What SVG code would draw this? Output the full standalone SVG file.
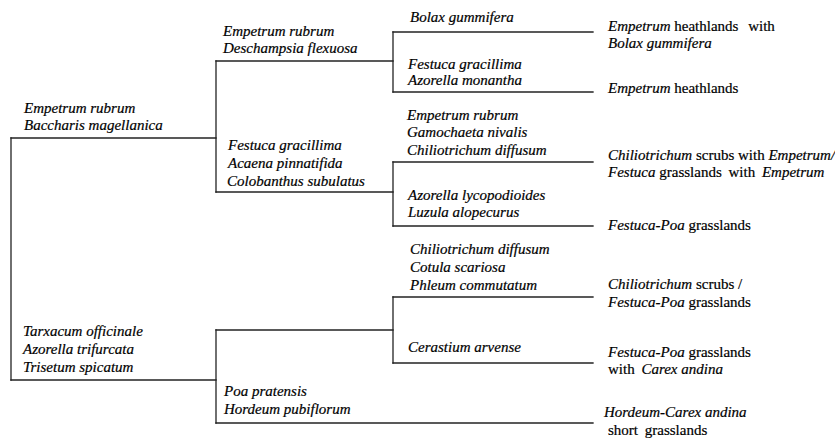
<svg xmlns="http://www.w3.org/2000/svg" width="835" height="439" viewBox="0 0 835 439">
<style>
  text { font-family: "Liberation Serif", "Times New Roman", serif; font-size: 15px; fill: #000; stroke: #000; stroke-width: 0.2; }
  .i { font-style: italic; }
  .c line { stroke: #222; stroke-width: 1.3; stroke-linecap: square; fill: none; }
</style>
<rect width="835" height="439" fill="#fff"/>
<g id="connectors" class="c">
  <line x1="11" y1="138" x2="216" y2="138"/>
  <line x1="11" y1="138" x2="11" y2="380"/>
  <line x1="11" y1="380" x2="216" y2="380"/>
  <line x1="216" y1="61" x2="216" y2="192"/>
  <line x1="216" y1="61" x2="393" y2="61"/>
  <line x1="216" y1="192" x2="393" y2="192"/>
  <line x1="393" y1="32" x2="393" y2="92"/>
  <line x1="393" y1="32" x2="593" y2="32"/>
  <line x1="393" y1="92" x2="593" y2="92"/>
  <line x1="393" y1="162" x2="393" y2="226"/>
  <line x1="393" y1="162" x2="593" y2="162"/>
  <line x1="393" y1="226" x2="593" y2="226"/>
  <line x1="216" y1="330" x2="216" y2="423"/>
  <line x1="216" y1="330" x2="393" y2="330"/>
  <line x1="216" y1="423" x2="593" y2="423"/>
  <line x1="393" y1="297" x2="393" y2="363"/>
  <line x1="393" y1="297" x2="593" y2="297"/>
  <line x1="393" y1="363" x2="593" y2="363"/>
</g>
<g id="node-root-a">
  <text class="i" x="24" y="113">Empetrum rubrum</text>
  <text class="i" x="24" y="130">Baccharis  magellanica</text>
</g>
<g id="node-root-b">
  <text class="i" x="23" y="336">Tarxacum officinale</text>
  <text class="i" x="23" y="354">Azorella  trifurcata</text>
  <text class="i" x="23" y="372">Trisetum spicatum</text>
</g>
<g id="node-l1-a">
  <text class="i" x="223" y="36">Empetrum rubrum</text>
  <text class="i" x="223" y="53">Deschampsia  flexuosa</text>
</g>
<g id="node-l1-b">
  <text class="i" x="228" y="150">Festuca gracillima</text>
  <text class="i" x="228" y="168">Acaena pinnatifida</text>
  <text class="i" x="227" y="186">Colobanthus subulatus</text>
</g>
<g id="node-l1-c">
  <text class="i" x="224" y="396">Poa pratensis</text>
  <text class="i" x="224" y="414">Hordeum pubiflorum</text>
</g>
<g id="node-l2-a">
  <text class="i" x="410" y="22">Bolax gummifera</text>
</g>
<g id="node-l2-b">
  <text class="i" x="408" y="69">Festuca gracillima</text>
  <text class="i" x="408" y="85">Azorella  monantha</text>
</g>
<g id="node-l2-c">
  <text class="i" x="407" y="120">Empetrum rubrum</text>
  <text class="i" x="407" y="137">Gamochaeta nivalis</text>
  <text class="i" x="407" y="155">Chiliotrichum  diffusum</text>
</g>
<g id="node-l2-d">
  <text class="i" x="408" y="200">Azorella lycopodioides</text>
  <text class="i" x="408" y="217">Luzula alopecurus</text>
</g>
<g id="node-l2-e">
  <text class="i" x="410" y="254">Chiliotrichum  diffusum</text>
  <text class="i" x="410" y="272">Cotula scariosa</text>
  <text class="i" x="410" y="290">Phleum commutatum</text>
</g>
<g id="node-l2-f">
  <text class="i" x="408" y="352">Cerastium arvense</text>
</g>
<g id="leaf-1">
  <text x="608" y="31"><tspan class="i">Empetrum</tspan> heathlands <tspan dx="6">with</tspan></text>
  <text class="i" x="608" y="48">Bolax gummifera</text>
</g>
<g id="leaf-2">
  <text x="608" y="93"><tspan class="i">Empetrum</tspan> heathlands</text>
</g>
<g id="leaf-3">
  <text x="608" y="160"><tspan class="i">Chiliotrichum</tspan> scrubs with <tspan class="i">Empetrum/</tspan></text>
  <text x="608" y="177"><tspan class="i">Festuca</tspan> grasslands <tspan dx="3">with</tspan> <tspan class="i" dx="3">Empetrum</tspan></text>
</g>
<g id="leaf-4">
  <text x="608" y="230"><tspan class="i">Festuca-Poa</tspan> grasslands</text>
</g>
<g id="leaf-5">
  <text x="608" y="289"><tspan class="i">Chiliotrichum</tspan> scrubs /</text>
  <text x="608" y="307"><tspan class="i">Festuca-Poa</tspan> grasslands</text>
</g>
<g id="leaf-6">
  <text x="608" y="357"><tspan class="i">Festuca-Poa</tspan> grasslands</text>
  <text x="608" y="374">with <tspan class="i" dx="3">Carex andina</tspan></text>
</g>
<g id="leaf-7">
  <text class="i" x="604" y="417">Hordeum-Carex andina</text>
  <text x="608" y="435">short <tspan dx="3">grasslands</tspan></text>
</g>
</svg>
